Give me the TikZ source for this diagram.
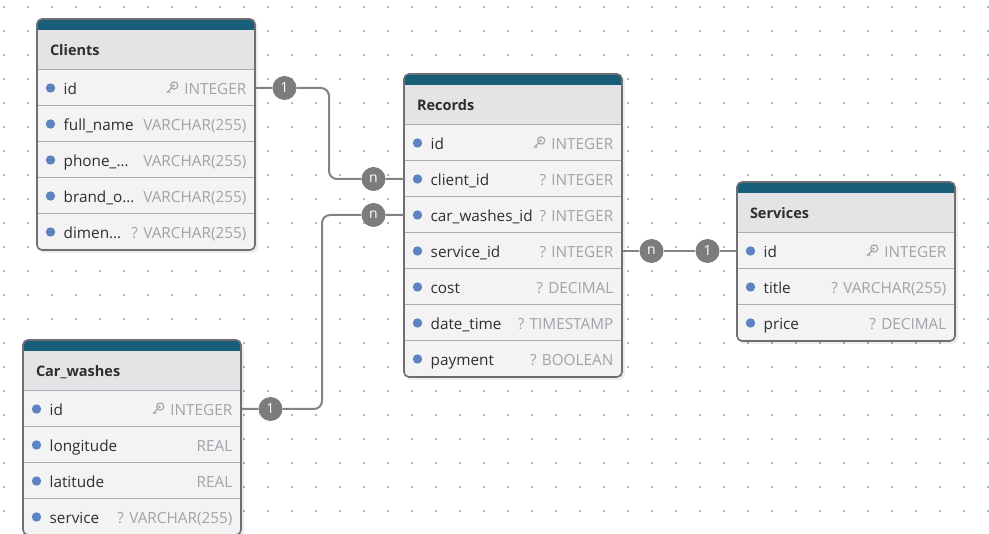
\documentclass[tikz,border=0pt]{standalone}
\usepackage{fontspec}
\setmainfont{Open Sans}
\usetikzlibrary{positioning,calc}

\definecolor{bandcol}{HTML}{185E79}
\definecolor{headcol}{HTML}{E4E4E6}
\definecolor{rowcol}{HTML}{F3F3F4}
\definecolor{framecol}{HTML}{6E6E73}
\definecolor{sepcol}{HTML}{A9ABB2}
\definecolor{bulletcol}{HTML}{5B84C0}
\definecolor{typecol}{HTML}{A2A2A9}
\definecolor{namecol}{HTML}{2E2E30}
\definecolor{linkcol}{HTML}{838383}
\definecolor{badgecol}{HTML}{7C7C7C}
\definecolor{dotcol}{HTML}{9DBBD6}

\tikzset{
  rowbox/.style={draw=sepcol, fill=rowcol, line width=1pt, minimum width=218pt, minimum height=36pt, inner sep=0pt},
  headbox/.style={fill=headcol, minimum width=218pt, minimum height=40pt, inner sep=0pt},
  ftitle/.style={anchor=west, inner sep=0pt, text=namecol, text height=11.5pt, text depth=0pt, font=\fontsize{14.5}{16}\selectfont\bfseries},
  fname/.style={anchor=west, inner sep=0pt, text=namecol, text height=12.5pt, text depth=0pt, font=\fontsize{15.3}{17}\selectfont},
  ftype/.style={anchor=east, inner sep=0pt, text=typecol, text height=12.5pt, text depth=0pt, font=\fontsize{15.3}{17}\selectfont},
  bullet/.style={fill=bulletcol},
  frame/.style={draw=framecol, line width=1.6pt, rounded corners=5pt},
  shade/.style={fill=black, opacity=0.07, rounded corners=6pt},
  keyline/.style={draw=typecol, line width=1.1pt, line cap=round},
  link/.style={draw=linkcol, line width=2pt, rounded corners=8pt},
  badge/.style={circle, fill=badgecol, text=white, minimum size=24pt, inner sep=0pt, font=\fontsize{14}{14}\selectfont},
  griddot/.style={draw=dotcol, line width=1.7pt, dash pattern=on 1.7pt off 22.3pt}
}

% small key in front of a primary key type
\newcommand{\dbkey}[1]{%
  \draw[keyline] ($(#1.west)+(-10,-2.5)$) circle (3.6);
  \draw[keyline] ($(#1.west)+(-10.8,-2.2)$) circle (0.6);
  \draw[keyline] ($(#1.west)+(-12.5,0)$) -- ++(-4.8,4.8) ++(1.6,-1.6) -- ++(1.4,1.4);
}

\begin{document}
\begin{tikzpicture}[x=1pt,y=-1pt]
\useasboundingbox (0,0) rectangle (989,534);

% dotted background
\foreach \j in {0,...,22}
  \draw[griddot] (3.15,{7+24*\j}) -- (990,{7+24*\j});

% Clients
\fill[shade] (38,21) rectangle (258,253);
\begin{scope}
\clip[rounded corners=5pt] (37,19) rectangle (255,250);
\fill[bandcol] (37,19) rectangle (255,30);
\node[headbox] (cl-head) at (146,50) {};
\node[ftitle, right=13pt of cl-head.west] (cl-title) {Clients};
\node[rowbox] (cl-id) at (146,88) {};
\node[rowbox] (cl-name) at (146,124) {};
\node[rowbox] (cl-phone) at (146,160) {};
\node[rowbox] (cl-brand) at (146,196) {};
\node[rowbox] (cl-dim) at (146,232) {};
\end{scope}
\draw[frame] (37,19) rectangle (255,250);
\fill[bullet] ([xshift=14pt]cl-id.west) circle (4.7);
\fill[bullet] ([xshift=14pt]cl-name.west) circle (4.7);
\fill[bullet] ([xshift=14pt]cl-phone.west) circle (4.7);
\fill[bullet] ([xshift=14pt]cl-brand.west) circle (4.7);
\fill[bullet] ([xshift=14pt]cl-dim.west) circle (4.7);
\node[fname] (cl-id-n) at ([xshift=27pt]cl-id.west) {id};
\node[fname] (cl-name-n) at ([xshift=27pt]cl-name.west) {full\_name};
\node[fname] (cl-phone-n) at ([xshift=27pt]cl-phone.west) {phone\_…};
\node[fname] (cl-brand-n) at ([xshift=27pt]cl-brand.west) {brand\_o…};
\node[fname] (cl-dim-n) at ([xshift=27pt]cl-dim.west) {dimen…};
\node[ftype] (cl-id-t) at ([xshift=-9pt]cl-id.east) {INTEGER};
\node[ftype] (cl-name-t) at ([xshift=-9pt]cl-name.east) {VARCHAR(255)};
\node[ftype] (cl-phone-t) at ([xshift=-9pt]cl-phone.east) {VARCHAR(255)};
\node[ftype] (cl-brand-t) at ([xshift=-9pt]cl-brand.east) {VARCHAR(255)};
\node[ftype] (cl-dim-t) at ([xshift=-9pt]cl-dim.east) {? VARCHAR(255)};
\dbkey{cl-id-t}

% Records
\fill[shade] (405,76) rectangle (625,380);
\begin{scope}
\clip[rounded corners=5pt] (404,74) rectangle (622,377);
\fill[bandcol] (404,74) rectangle (622,85);
\node[headbox] (rc-head) at (513,105) {};
\node[ftitle, right=13pt of rc-head.west] (rc-title) {Records};
\node[rowbox] (rc-id) at (513,143) {};
\node[rowbox] (rc-client) at (513,179) {};
\node[rowbox] (rc-car) at (513,215) {};
\node[rowbox] (rc-service) at (513,251) {};
\node[rowbox] (rc-cost) at (513,287) {};
\node[rowbox] (rc-date) at (513,323) {};
\node[rowbox] (rc-pay) at (513,359) {};
\end{scope}
\draw[frame] (404,74) rectangle (622,377);
\fill[bullet] ([xshift=14pt]rc-id.west) circle (4.7);
\fill[bullet] ([xshift=14pt]rc-client.west) circle (4.7);
\fill[bullet] ([xshift=14pt]rc-car.west) circle (4.7);
\fill[bullet] ([xshift=14pt]rc-service.west) circle (4.7);
\fill[bullet] ([xshift=14pt]rc-cost.west) circle (4.7);
\fill[bullet] ([xshift=14pt]rc-date.west) circle (4.7);
\fill[bullet] ([xshift=14pt]rc-pay.west) circle (4.7);
\node[fname] (rc-id-n) at ([xshift=27pt]rc-id.west) {id};
\node[fname] (rc-client-n) at ([xshift=27pt]rc-client.west) {client\_id};
\node[fname] (rc-car-n) at ([xshift=27pt]rc-car.west) {car\_washes\_id};
\node[fname] (rc-service-n) at ([xshift=27pt]rc-service.west) {service\_id};
\node[fname] (rc-cost-n) at ([xshift=27pt]rc-cost.west) {cost};
\node[fname] (rc-date-n) at ([xshift=27pt]rc-date.west) {date\_time};
\node[fname] (rc-pay-n) at ([xshift=27pt]rc-pay.west) {payment};
\node[ftype] (rc-id-t) at ([xshift=-9pt]rc-id.east) {INTEGER};
\node[ftype] (rc-client-t) at ([xshift=-9pt]rc-client.east) {? INTEGER};
\node[ftype] (rc-car-t) at ([xshift=-9pt]rc-car.east) {? INTEGER};
\node[ftype] (rc-service-t) at ([xshift=-9pt]rc-service.east) {? INTEGER};
\node[ftype] (rc-cost-t) at ([xshift=-9pt]rc-cost.east) {? DECIMAL};
\node[ftype] (rc-date-t) at ([xshift=-9pt]rc-date.east) {? TIMESTAMP};
\node[ftype] (rc-pay-t) at ([xshift=-9pt]rc-pay.east) {? BOOLEAN};
\dbkey{rc-id-t}

% Services
\fill[shade] (738,184) rectangle (958,344);
\begin{scope}
\clip[rounded corners=5pt] (737,182) rectangle (955,341);
\fill[bandcol] (737,182) rectangle (955,193);
\node[headbox] (sv-head) at (846,213) {};
\node[ftitle, right=13pt of sv-head.west] (sv-title) {Services};
\node[rowbox] (sv-id) at (846,251) {};
\node[rowbox] (sv-title-r) at (846,287) {};
\node[rowbox] (sv-price) at (846,323) {};
\end{scope}
\draw[frame] (737,182) rectangle (955,341);
\fill[bullet] ([xshift=14pt]sv-id.west) circle (4.7);
\fill[bullet] ([xshift=14pt]sv-title-r.west) circle (4.7);
\fill[bullet] ([xshift=14pt]sv-price.west) circle (4.7);
\node[fname] (sv-id-n) at ([xshift=27pt]sv-id.west) {id};
\node[fname] (sv-title-n) at ([xshift=27pt]sv-title-r.west) {title};
\node[fname] (sv-price-n) at ([xshift=27pt]sv-price.west) {price};
\node[ftype] (sv-id-t) at ([xshift=-9pt]sv-id.east) {INTEGER};
\node[ftype] (sv-title-t) at ([xshift=-9pt]sv-title-r.east) {? VARCHAR(255)};
\node[ftype] (sv-price-t) at ([xshift=-9pt]sv-price.east) {? DECIMAL};
\dbkey{sv-id-t}

% Car_washes
\fill[shade] (24,342) rectangle (244,538);
\begin{scope}
\clip[rounded corners=5pt] (23,340) rectangle (241,535);
\fill[bandcol] (23,340) rectangle (241,351);
\node[headbox] (cw-head) at (132,371) {};
\node[ftitle, right=13pt of cw-head.west] (cw-title) {Car\_washes};
\node[rowbox] (cw-id) at (132,409) {};
\node[rowbox] (cw-lon) at (132,445) {};
\node[rowbox] (cw-lat) at (132,481) {};
\node[rowbox] (cw-service) at (132,517) {};
\end{scope}
\draw[frame] (23,340) rectangle (241,535);
\fill[bullet] ([xshift=14pt]cw-id.west) circle (4.7);
\fill[bullet] ([xshift=14pt]cw-lon.west) circle (4.7);
\fill[bullet] ([xshift=14pt]cw-lat.west) circle (4.7);
\fill[bullet] ([xshift=14pt]cw-service.west) circle (4.7);
\node[fname] (cw-id-n) at ([xshift=27pt]cw-id.west) {id};
\node[fname] (cw-lon-n) at ([xshift=27pt]cw-lon.west) {longitude};
\node[fname] (cw-lat-n) at ([xshift=27pt]cw-lat.west) {latitude};
\node[fname] (cw-service-n) at ([xshift=27pt]cw-service.west) {service};
\node[ftype] (cw-id-t) at ([xshift=-9pt]cw-id.east) {INTEGER};
\node[ftype] (cw-lon-t) at ([xshift=-9pt]cw-lon.east) {REAL};
\node[ftype] (cw-lat-t) at ([xshift=-9pt]cw-lat.east) {REAL};
\node[ftype] (cw-service-t) at ([xshift=-9pt]cw-service.east) {? VARCHAR(255)};
\dbkey{cw-id-t}

% relations
\node[badge] (cl-one) at ([xshift=29pt]cl-id.east) {1};
\node[badge] (rc-n1) at ([xshift=-30pt]rc-client.west) {n};
\node[badge] (cw-one) at ([xshift=29pt]cw-id.east) {1};
\node[badge] (rc-n2) at ([xshift=-30pt]rc-car.west) {n};
\node[badge] (rc-n3) at ([xshift=29pt]rc-service.east) {n};
\node[badge] (sv-one) at ([xshift=-29pt]sv-id.west) {1};
\coordinate (k1) at ($(cl-one)!0.5!(rc-n1)$);
\coordinate (k2) at ($(cw-one)!0.5!(rc-n2)$);
\draw[link] (cl-id.east) -- (cl-one) -| (k1) |- (rc-n1) -- (rc-client.west);
\draw[link] (cw-id.east) -- (cw-one) -| (k2) |- (rc-n2) -- (rc-car.west);
\draw[link] (rc-service.east) -- (rc-n3) -- (sv-one) -- (sv-id.west);
\end{tikzpicture}
\end{document}
